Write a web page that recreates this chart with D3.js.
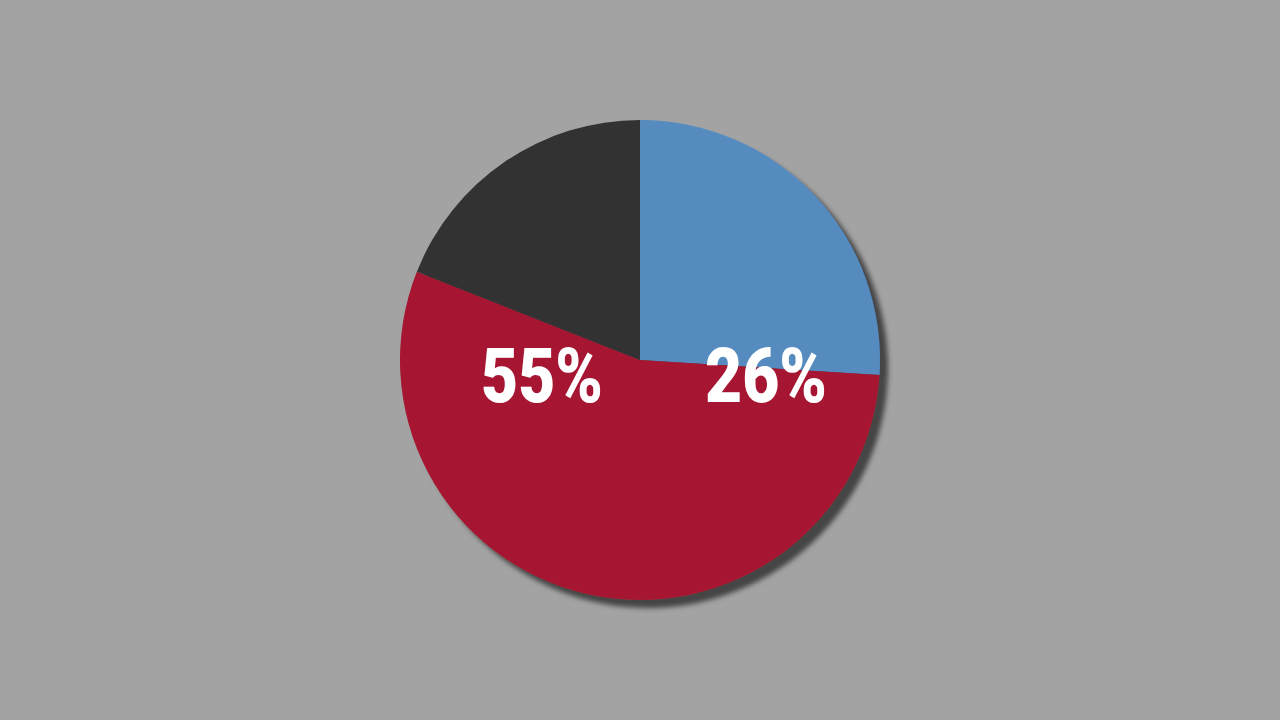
<!DOCTYPE html>
<html>
<head>
<meta charset="utf-8">
<script src="https://cdn.jsdelivr.net/npm/d3@7"></script>
<style>
  html, body { margin: 0; padding: 0; background: #a3a3a3; }
  svg { display: block; }
</style>
</head>
<body>
<div id="chart"></div>
<script>
const categories = ['Blue', 'Red', 'Dark'];
const values = [26, 55, 19];
const labels = ['26%', '55%', ''];
const colors = ['#558bbf', '#a61530', '#333333'];

const width = 1280;
const height = 720;
const radius = 240;

const svg = d3.select('#chart')
  .append('svg')
  .attr('width', width)
  .attr('height', height);

// Drop shadow under the pie
const defs = svg.append('defs');
const filter = defs.append('filter')
  .attr('id', 'shadow')
  .attr('x', '-20%').attr('y', '-20%')
  .attr('width', '140%').attr('height', '140%');
filter.append('feGaussianBlur').attr('in', 'SourceAlpha').attr('stdDeviation', 2.5).attr('result', 'blur');
filter.append('feOffset').attr('in', 'blur').attr('dx', 8).attr('dy', 8).attr('result', 'off');
filter.append('feFlood').attr('flood-color', '#444444').attr('flood-opacity', 1);
filter.append('feComposite').attr('in2', 'off').attr('operator', 'in').attr('result', 'shadow');
const merge = filter.append('feMerge');
merge.append('feMergeNode').attr('in', 'shadow');
merge.append('feMergeNode').attr('in', 'SourceGraphic');

const g = svg.append('g')
  .attr('transform', `translate(${width / 2}, ${height / 2})`);

const data = categories.map((c, i) => ({ label: labels[i], value: values[i], color: colors[i] }));

const pie = d3.pie()
  .value(d => d.value)
  .sort(null);

const arc = d3.arc()
  .innerRadius(0)
  .outerRadius(radius);

g.append('g')
  .attr('filter', 'url(#shadow)')
  .selectAll('path')
  .data(pie(data))
  .enter()
  .append('path')
  .attr('d', arc)
  .attr('fill', d => d.data.color);

// Labels sit on a horizontal line just below the centre
const labelX = d3.scaleOrdinal()
  .domain(labels)
  .range([126, -98, 0]);

g.selectAll('text')
  .data(pie(data).filter(d => d.data.label))
  .enter()
  .append('text')
  .attr('x', d => labelX(d.data.label))
  .attr('y', 42)
  .attr('text-anchor', 'middle')
  .attr('textLength', 122)
  .attr('lengthAdjust', 'spacingAndGlyphs')
  .attr('fill', '#ffffff')
  .style('font-family', 'Roboto, "DejaVu Sans", sans-serif')
  .style('font-weight', 900)
  .style('font-size', '76px')
  .text(d => d.data.label);
</script>
</body>
</html>
